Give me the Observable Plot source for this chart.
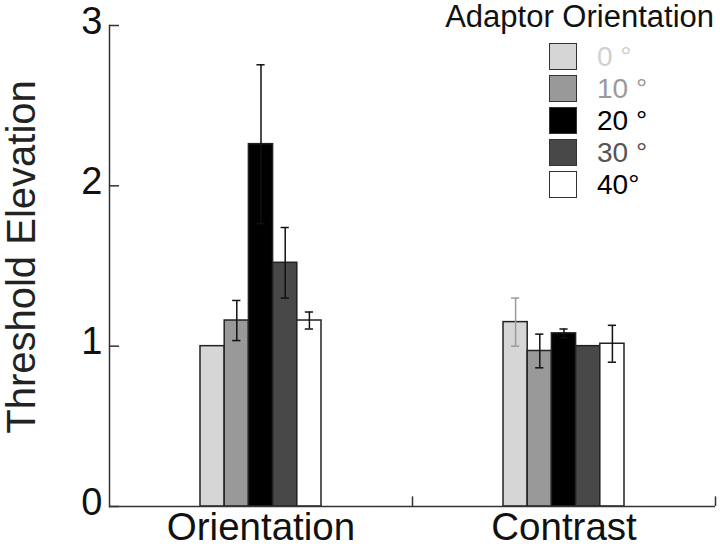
<!DOCTYPE html>
<html>
<head>
<meta charset="utf-8">
<script src="https://cdn.jsdelivr.net/npm/d3@7"></script>
<script src="https://cdn.jsdelivr.net/npm/@observablehq/plot@0.6"></script>
<style>
  body { margin: 0; background: #fff; font-family: "Liberation Sans", Arial, Helvetica, sans-serif; }
  #wrap { position: relative; width: 720px; height: 550px; }
  #legend { position: absolute; left: 0; top: 0; width: 720px; height: 210px; pointer-events: none; color: #111; }
  #legend .title { position: absolute; right: 6px; top: 1px; font-size: 31px; line-height: 1.05; white-space: nowrap; }
  #legend .item { position: absolute; left: 549px; height: 27px; display: flex; align-items: center; }
  #legend .sw { width: 26px; height: 25px; border: 1.5px solid #333; }
  #legend .lab { margin-left: 20px; font-size: 28px; line-height: 1; white-space: nowrap; }
  #ylabel { position: absolute; left: 21px; top: 257px; transform: translate(-50%, -50%) rotate(-90deg); font-size: 40px; line-height: 1; white-space: nowrap; color: #222; }
  svg [aria-label="y-axis tick label"] text { font-size: 38px; }
  svg [aria-label="fx-axis tick label"] text { font-size: 38.5px; }
</style>
</head>
<body>
<div id="wrap"></div>
<script>
const groups = ["Orientation", "Contrast"];
const adaptors = [0, 10, 20, 30, 40];
const legendLabels = ["0 °", "10 °", "20 °", "30 °", "40°"];
const yLabel = "Threshold Elevation";
const orientationMeans = [1.00, 1.16, 2.26, 1.52, 1.16];
const orientationErr = [0, 0.125, 0.495, 0.22, 0.053];
const contrastMeans = [1.15, 0.97, 1.08, 1.00, 1.015];
const contrastErr = [0.15, 0.105, 0.027, 0, 0.115];
const barFills = ["#d6d6d6", "#999999", "#000000", "#484848", "#ffffff"];
const labelColors = ["#d0d0d0", "#9a9a9a", "#000000", "#555555", "#000000"];
const errColors = { Orientation: ["#111", "#111", "#111", "#111", "#111"], Contrast: ["#9a9a9a", "#111", "#111", "#111", "#111"] };
const yTicks = [0, 1, 2, 3];

const rows = [];
groups.forEach((g, gi) => {
  const means = gi === 0 ? orientationMeans : contrastMeans;
  const errs = gi === 0 ? orientationErr : contrastErr;
  adaptors.forEach((a, i) => {
    rows.push({ group: g, adaptor: a, mean: means[i], err: errs[i], fill: barFills[i], errColor: errColors[g][i] });
  });
});
const errRows = rows.filter(d => d.err > 0);

const W = 720, H = 550, mL = 109, mR = 5;
const bw = (W - mL - mR) / groups.length;

const chart = Plot.plot({
  width: W,
  height: H,
  marginLeft: mL,
  marginRight: mR,
  marginTop: 25,
  marginBottom: 44,
  style: { fontFamily: '"Liberation Sans", Arial, Helvetica, sans-serif', color: "#111", background: "#fff" },
  x: { domain: adaptors, paddingInner: 0, paddingOuter: 3.76, round: false, axis: null },
  fx: { domain: groups, padding: 0 },
  y: { domain: [0, 3] },
  marks: [
    Plot.barY(rows, { fx: "group", x: "adaptor", y: "mean", fill: d => d.fill, stroke: "#222", strokeWidth: 1.5 }),
    Plot.ruleX(errRows, { fx: "group", x: "adaptor", y1: d => d.mean - d.err, y2: d => d.mean + d.err, stroke: d => d.errColor, strokeWidth: 1.5 }),
    Plot.tickY(errRows, { fx: "group", x: "adaptor", y: d => d.mean + d.err, stroke: d => d.errColor, strokeWidth: 1.5, insetLeft: 8, insetRight: 8 }),
    Plot.tickY(errRows, { fx: "group", x: "adaptor", y: d => d.mean - d.err, stroke: d => d.errColor, strokeWidth: 1.5, insetLeft: 8, insetRight: 8 }),
    Plot.ruleY([0], { stroke: "#333", strokeWidth: 1.5 }),
    Plot.ruleX([0], { x: null, y1: 0, y2: 0.06, dx: bw / 2, stroke: "#333", strokeWidth: 1.5 }),
    Plot.frame({ anchor: "left", facetAnchor: "left", stroke: "#333", strokeWidth: 1.5 }),
    Plot.tickY(yTicks, { y: d => d, facetAnchor: "left", insetRight: bw - 10, stroke: "#333", strokeWidth: 1.5 }),
    Plot.axisY({ ticks: yTicks, tickFormat: "d", label: null, tickSize: 0, tickPadding: 7, dy: -4 }),
    Plot.axisFx({ anchor: "bottom", label: null, tickSize: 0, tickPadding: 6 })
  ]
});

const wrap = document.getElementById("wrap");
wrap.appendChild(chart);

const yl = document.createElement("div");
yl.id = "ylabel";
yl.textContent = yLabel;
wrap.appendChild(yl);

const legend = document.createElement("div");
legend.id = "legend";
const title = document.createElement("div");
title.className = "title";
title.textContent = "Adaptor Orientation";
legend.appendChild(title);
adaptors.forEach((a, i) => {
  const item = document.createElement("div");
  item.className = "item";
  item.style.top = (43 + 32 * i) + "px";
  const sw = document.createElement("div");
  sw.className = "sw";
  sw.style.background = barFills[i];
  const lab = document.createElement("div");
  lab.className = "lab";
  lab.style.color = labelColors[i];
  lab.textContent = legendLabels[i];
  item.appendChild(sw);
  item.appendChild(lab);
  legend.appendChild(item);
});
wrap.appendChild(legend);
</script>
</body>
</html>
